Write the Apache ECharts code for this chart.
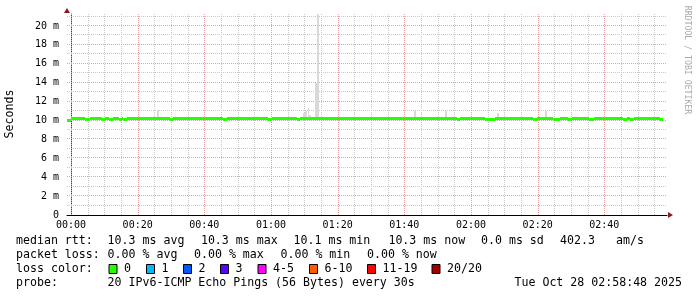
<!DOCTYPE html>
<html><head><meta charset="utf-8">
<script src="https://cdn.jsdelivr.net/npm/echarts@6/dist/echarts.min.js"></script>
<style>html,body{margin:0;padding:0;background:#fff}#c{width:697px;height:297px}</style>
</head><body><div id="c"></div>
<script>
// ---- data (minutes relative to 00:00) ----
const xMin = -1.2, xMax = 178.8;
const yMax = 21.27;
const xMajorTicks = [0, 20, 40, 60, 80, 100, 120, 140, 160];
const xMinorTicks = [5, 10, 15, 25, 30, 35, 45, 50, 55, 65, 70, 75, 85, 90, 95, 105, 110, 115, 125, 130, 135, 145, 150, 155, 165, 170, 175];
const yMajorTicks = [0, 2, 4, 6, 8, 10, 12, 14, 16, 18, 20];
const yMinorTicks = [1, 3, 5, 7, 9, 11, 13, 15, 17, 19, 21];

const medianTime = [-1.2, 0, 4.2, 5.7, 9.3, 10.2, 11.4, 12.6, 14.4, 15.3, 15.6, 16.8, 29.7, 30.6, 45.6, 46.8, 59.1, 60.3, 67.8, 68.7, 115.8, 116.7, 124.2, 127.2, 138.6, 139.8, 144.6, 146.7, 149.1, 150.3, 155.4, 156.9, 165.6, 166.8, 167.7, 168.9, 176.7, 177.6];
const medianValue = [10.1, 10.3, 10.2, 10.3, 10.2, 10.3, 10.2, 10.3, 10.2, 10.3, 10.2, 10.3, 10.2, 10.3, 10.2, 10.3, 10.2, 10.3, 10.2, 10.3, 10.2, 10.3, 10.2, 10.3, 10.2, 10.3, 10.2, 10.3, 10.2, 10.3, 10.2, 10.3, 10.2, 10.3, 10.2, 10.3, 10.2, 10.2];

const smokeStart = [25.8, 69.6, 70.2, 71.1, 71.4, 73.2, 73.8, 102.9, 112.2, 127.8, 142.2];
const smokeEnd   = [26.4, 70.2, 70.8, 71.4, 72.0, 73.8, 74.4, 103.5, 112.8, 128.4, 142.8];
const smokeLow   = [10.2, 10.2, 10.2, 10.2, 10.2, 10.2, 10.2, 10.2, 10.2, 10.2, 10.2];
const smokeHigh  = [11.1, 10.8, 11.0, 11.3, 10.6, 14.0, 21.3, 11.0, 11.0, 10.8, 11.0];

const rttLabel = 'median rtt:';
const rttParts = ['10.3 ms avg', '10.3 ms max', '10.1 ms min', '10.3 ms now', '0.0 ms sd', '402.3', 'am/s'];
const lossLabel = 'packet loss:';
const lossParts = ['0.00 % avg', '0.00 % max', '0.00 % min', '0.00 % now'];
const colorLabel = 'loss color:';
const lossLabels = ['0', '1', '2', '3', '4-5', '6-10', '11-19', '20/20'];
const lossColors = ['#26ff00', '#00b8ff', '#0059ff', '#5e00ff', '#ff00ff', '#ff5e00', '#ff0000', '#a10000'];
const probeLabel = 'probe:';
const probeText = '20 IPv6-ICMP Echo Pings (56 Bytes) every 30s';
const dateText = 'Tue Oct 28 02:58:48 2025';
const yTitle = 'Seconds';
const watermark = 'RRDTOOL / TOBI OETIKER';

// ---- layout ----
const G = {left: 67, top: 14, width: 600, height: 201};
const MONO = '"DejaVu Sans Mono", monospace';
const FONT = '11.6px ' + MONO;
const rowY = [241, 255, 269, 283];
const rttX = [107.6, 200.9, 293.5, 388.4, 481, 560, 616];
const lossX = [107.6, 194, 280.5, 367];
const boxX = [108.5, 146, 183, 220, 257.5, 309, 367, 431.5];

function fmtTime(v) {
  let m = Math.round(v);
  m = ((m % 1440) + 1440) % 1440;
  const h = Math.floor(m / 60), mm = m % 60;
  return String(h).padStart(2, '0') + ':' + String(mm).padStart(2, '0');
}

function gridSeries(values, vertical, color) {
  return {
    type: 'custom', z: 1, silent: true,
    data: values.map(v => [v]),
    renderItem: function (params, api) {
      const cs = params.coordSys;
      const v = api.value(0);
      let shape;
      if (vertical) {
        const x = Math.round(api.coord([v, 0])[0]) + 0.5;
        shape = {x1: x, y1: cs.y, x2: x, y2: cs.y + cs.height};
      } else {
        const y = Math.round(api.coord([xMin, v])[1]) - 0.5;
        shape = {x1: cs.x, y1: y, x2: cs.x + cs.width, y2: y};
      }
      return {type: 'line', shape: shape, style: {stroke: color, lineWidth: 1, lineDash: [1, 1]}};
    }
  };
}

// step segments: [start, end, value]
const medianSegs = medianTime.slice(0, -1).map((t, i) => [t, medianTime[i + 1], medianValue[i]]);
const smokeData = smokeStart.map((s, i) => [s, smokeEnd[i], smokeLow[i], smokeHigh[i]]);

// legend graphics
const graphics = [];
function txt(x, y, s, extra) {
  graphics.push(Object.assign({type: 'text', x: x, y: y, style: Object.assign({text: s, font: FONT, fill: '#000', verticalAlign: 'middle'}, extra || {})}));
}
txt(16, rowY[0], rttLabel);
rttParts.forEach((s, i) => txt(rttX[i], rowY[0], s));
txt(16, rowY[1], lossLabel);
lossParts.forEach((s, i) => txt(lossX[i], rowY[1], s));
txt(16, rowY[2], colorLabel);
lossLabels.forEach((lab, i) => {
  graphics.push({type: 'rect', shape: {x: boxX[i] + 0.5, y: rowY[2] - 4.5, width: 8, height: 9}, style: {fill: lossColors[i], stroke: '#000', lineWidth: 1}});
  txt(boxX[i] + 15.5, rowY[2], lab);
});
txt(16, rowY[3], probeLabel);
txt(107.6, rowY[3], probeText);
txt(682, rowY[3], dateText, {align: 'right'});
graphics.push({type: 'text', x: 10, y: 114, rotation: Math.PI / 2, style: {text: yTitle, font: FONT, fill: '#000', align: 'center', verticalAlign: 'middle'}});
graphics.push({type: 'text', x: 687, y: 60, rotation: -Math.PI / 2, style: {text: watermark, font: '8.2px ' + MONO, fill: '#aaaaaa', align: 'center', verticalAlign: 'middle'}});
// axis arrows
graphics.push({type: 'polygon', shape: {points: [[G.left - 3, G.top - 1], [G.left, G.top - 6], [G.left + 3, G.top - 1]]}, style: {fill: '#8b1a1a'}});
graphics.push({type: 'polygon', shape: {points: [[G.left + G.width + 1, G.top + G.height - 3], [G.left + G.width + 6, G.top + G.height], [G.left + G.width + 1, G.top + G.height + 3]]}, style: {fill: '#8b1a1a'}});

const chart = echarts.init(document.getElementById('c'), null, {renderer: 'canvas'});
chart.setOption({
  backgroundColor: '#ffffff',
  animation: false,
  grid: {left: G.left, top: G.top, width: G.width, height: G.height, containLabel: false},
  xAxis: {
    type: 'value', min: xMin, max: xMax,
    axisLine: {show: true, onZero: false, lineStyle: {color: '#000', width: 1}},
    axisTick: {show: false},
    axisLabel: {customValues: xMajorTicks, formatter: fmtTime, fontFamily: 'DejaVu Sans Mono', fontSize: 10, color: '#000', margin: 5},
    splitLine: {show: false}
  },
  yAxis: {
    type: 'value', min: 0, max: yMax, interval: 2,
    axisLine: {show: true, lineStyle: {color: '#444', width: 1}},
    axisTick: {show: false},
    axisLabel: {showMaxLabel: false, formatter: v => (v === 0 ? '0' : v + ' m'), fontFamily: 'DejaVu Sans Mono', fontSize: 10, color: '#000', margin: 8},
    splitLine: {show: false}
  },
  graphic: graphics,
  series: [
    gridSeries(xMinorTicks, true, '#c8c8c8'),
    gridSeries(yMinorTicks, false, '#c8c8c8'),
    gridSeries(xMajorTicks, true, '#e8a0a0'),
    gridSeries(yMajorTicks.filter(v => v > 0), false, '#e8a0a0'),
    {
      type: 'custom', z: 2, silent: true, data: smokeData,
      encode: {x: [0, 1], y: [2, 3]},
      renderItem: function (params, api) {
        const p0 = api.coord([api.value(0), api.value(3)]);
        const p1 = api.coord([api.value(1), api.value(2)]);
        const x0 = Math.round(p0[0]), x1 = Math.round(p1[0]);
        const y0 = Math.round(p0[1]), y1 = Math.round(p1[1]);
        return {type: 'rect', shape: {x: x0, y: y0, width: Math.max(1, x1 - x0), height: y1 - y0}, style: {fill: '#d9d9d9'}};
      }
    },
    {
      type: 'custom', z: 3, silent: true, data: medianSegs,
      encode: {x: [0, 1], y: 2},
      renderItem: function (params, api) {
        const p0 = api.coord([api.value(0), api.value(2)]);
        const p1 = api.coord([api.value(1), api.value(2)]);
        const x0 = Math.round(p0[0]), x1 = Math.round(p1[0]);
        const y = Math.round(p0[1]);
        return {type: 'rect', shape: {x: x0, y: y - 1, width: Math.max(1, x1 - x0), height: 3}, style: {fill: '#26ff00'}};
      }
    }
  ]
});
</script></body></html>
